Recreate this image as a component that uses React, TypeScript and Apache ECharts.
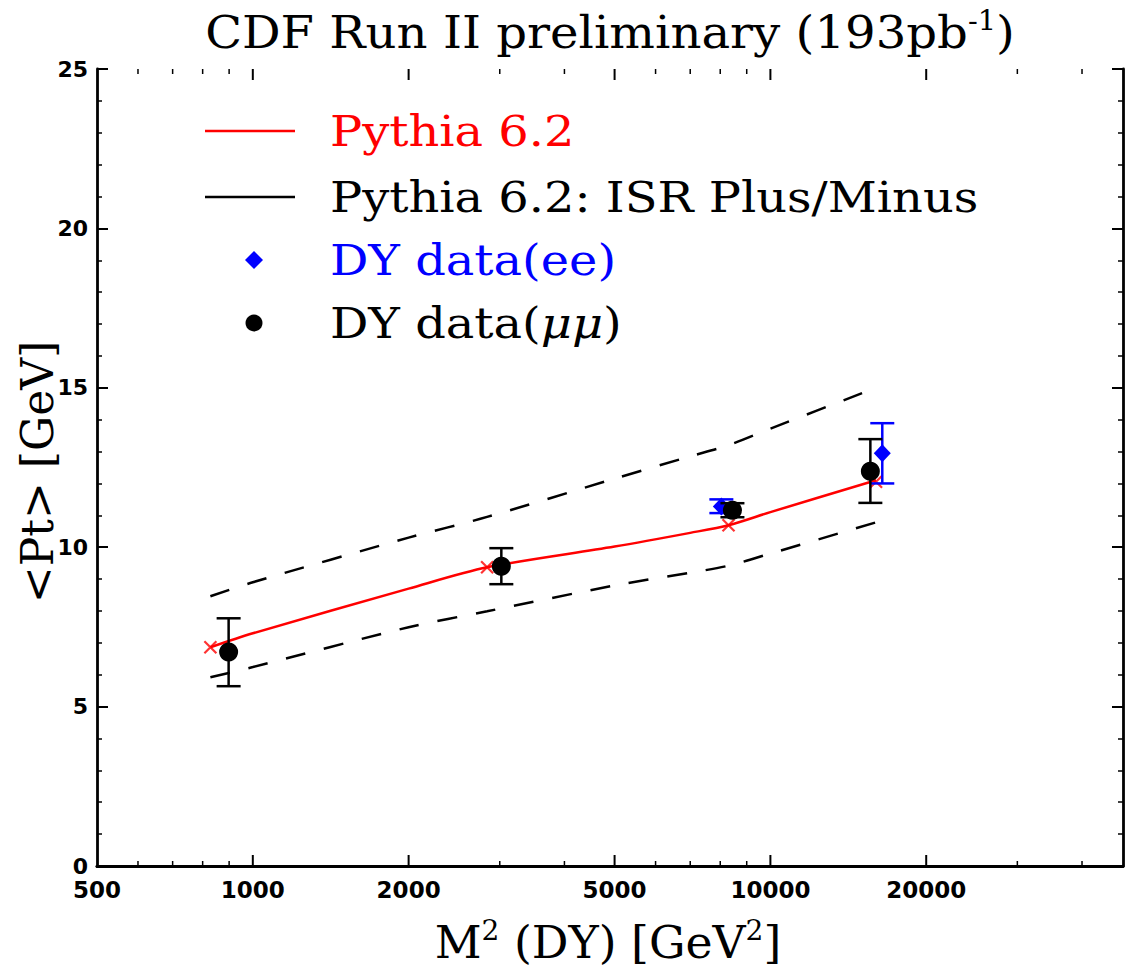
import React, { useEffect, useRef } from "react";
import * as echarts from "echarts";

// ---- data ----
const pythiaX = [828, 1000, 2000, 2836, 5000, 7000, 8300, 10000, 16000];
const pythiaY = [6.86, 7.3, 8.7, 9.37, 10.02, 10.45, 10.69, 11.1, 12.1];
const isrPlusY = [8.46, 8.9, 10.3, 10.95, 12.15, 12.85, 13.2, 13.72, 15.0];
const isrMinusY = [5.92, 6.24, 7.49, 7.99, 8.8, 9.2, 9.42, 9.8, 10.78];

const pythiaMarkX = [828, 2836, 8300, 16000];
const pythiaMarkY = [6.86, 9.37, 10.69, 12.05];

const muX = [898, 3021, 8446, 15600];
const muY = [6.71, 9.4, 11.16, 12.38];
const muLow = [5.64, 8.84, 10.94, 11.39];
const muHigh = [7.77, 9.97, 11.38, 13.39];

const eeX = [8040, 16450];
const eeY = [11.28, 12.95];
const eeLow = [11.07, 12.0];
const eeHigh = [11.5, 13.89];

const xMajorTicks = [1000, 2000, 5000, 10000, 20000];
const xMinorTicks = [600, 700, 800, 900, 3000, 4000, 6000, 7000, 8000, 9000, 30000, 40000];
const xTickLabels = [500, 1000, 2000, 5000, 10000, 20000];

const X_MIN = 500;
const X_MAX = 48000;
const Y_MIN = 0;
const Y_MAX = 25;

const SERIF = "'DejaVu Serif', 'Liberation Serif', serif";
const SANS = "'DejaVu Sans', sans-serif";

function buildOption() {
  const pts = (xs: number[], ys: number[]) => xs.map((x, i) => [x, ys[i]]);
  const errData = (xs: number[], lo: number[], hi: number[]) => xs.map((x, i) => [x, lo[i], hi[i]]);

  const errRender = (color: string) => (params: any, api: any) => {
    const x = api.value(0);
    const lo = api.coord([x, api.value(1)]);
    const hi = api.coord([x, api.value(2)]);
    const hw = 12;
    const st = { stroke: color, lineWidth: 2.5 };
    return {
      type: "group",
      children: [
        { type: "line", shape: { x1: lo[0], y1: lo[1], x2: hi[0], y2: hi[1] }, style: st },
        { type: "line", shape: { x1: lo[0] - hw, y1: lo[1], x2: lo[0] + hw, y2: lo[1] }, style: st },
        { type: "line", shape: { x1: hi[0] - hw, y1: hi[1], x2: hi[0] + hw, y2: hi[1] }, style: st },
      ],
    };
  };

  const tickData = [
    ...xMajorTicks.map((v) => [v, 1]),
    ...xMinorTicks.map((v) => [v, 0]),
  ];

  const axisCommonX = {
    type: "log",
    logBase: 10,
    min: X_MIN,
    max: X_MAX,
    axisLine: { show: true, lineStyle: { color: "#000", width: 2.8 } },
    axisTick: { show: false },
    axisLabel: { show: false },
    splitLine: { show: false },
    minorTick: { show: false },
    minorSplitLine: { show: false },
  };

  const axisCommonY = {
    type: "value",
    min: Y_MIN,
    max: Y_MAX,
    interval: 5,
    axisLine: { show: true, lineStyle: { color: "#000", width: 2.8 } },
    axisTick: { show: true, inside: true, length: 11, lineStyle: { color: "#000", width: 2 } },
    minorTick: { show: true, splitNumber: 5, length: 5, lineStyle: { color: "#000", width: 1.5 } },
    splitLine: { show: false },
  };

  const LEG_SCALE = 1.14;
  const legendText = (y: number, text: string, color: string) => ({
    type: "text",
    x: 330,
    y,
    scaleX: LEG_SCALE,
    style: {
      text,
      fill: color,
      fontSize: 42,
      fontFamily: SERIF,
      verticalAlign: "middle",
      align: "left",
    },
  });

  return {
    animation: false,
    backgroundColor: "#fff",
    grid: { left: 97, right: 4, top: 69, bottom: 108, containLabel: false },
    xAxis: [
      { ...axisCommonX, position: "bottom" },
      { ...axisCommonX, position: "top" },
    ],
    yAxis: [
      {
        ...axisCommonY,
        position: "left",
        axisLabel: {
          show: true,
          color: "#000",
          fontFamily: SANS,
          fontWeight: "bold",
          fontSize: 22,
          margin: 9,
        },
      },
      { ...axisCommonY, position: "right", axisLabel: { show: false } },
    ],
    graphic: [
      {
        type: "text",
        x: 610,
        y: 33,
        scaleX: 1.07,
        style: {
          text: "{a|CDF Run II preliminary (193pb}{s|-1}{a|)}",
          align: "center",
          verticalAlign: "middle",
          rich: {
            a: { fontSize: 45, fontFamily: SERIF, fill: "#000", lineHeight: 52 },
            s: { fontSize: 27, fontFamily: SERIF, fill: "#000", verticalAlign: "top", lineHeight: 52 },
          },
        },
      },
      {
        type: "text",
        x: 608,
        y: 943,
        scaleX: 1.04,
        style: {
          text: "{a|M}{s|2}{a| (DY) [GeV}{s|2}{a|]}",
          align: "center",
          verticalAlign: "middle",
          rich: {
            a: { fontSize: 44, fontFamily: SERIF, fill: "#000", lineHeight: 52 },
            s: { fontSize: 27, fontFamily: SERIF, fill: "#000", verticalAlign: "top", lineHeight: 52 },
          },
        },
      },
      {
        type: "text",
        x: 37,
        y: 472,
        rotation: Math.PI / 2,
        style: {
          text: "<Pt> [GeV]",
          fill: "#000",
          fontSize: 44,
          fontFamily: SERIF,
          align: "center",
          verticalAlign: "middle",
        },
      },
      // legend
      { type: "line", shape: { x1: 205, y1: 131, x2: 295, y2: 131 }, style: { stroke: "#ff0000", lineWidth: 2.5 } },
      legendText(132, "Pythia 6.2", "#ff0000"),
      { type: "line", shape: { x1: 205, y1: 197, x2: 295, y2: 197 }, style: { stroke: "#000", lineWidth: 2.5 } },
      legendText(198, "Pythia 6.2: ISR Plus/Minus", "#000"),
      {
        type: "polygon",
        shape: { points: [[254, 251], [263, 260], [254, 269], [245, 260]] },
        style: { fill: "#0000ff" },
      },
      legendText(261, "DY data(ee)", "#0000ff"),
      { type: "circle", shape: { cx: 254, cy: 323, r: 8.5 }, style: { fill: "#000" } },
      {
        type: "text",
        x: 330,
        y: 324,
        scaleX: LEG_SCALE,
        style: {
          text: "{n|DY data(}{i|μμ}{n|)}",
          verticalAlign: "middle",
          align: "left",
          rich: {
            n: { fontSize: 42, fontFamily: SERIF, fill: "#000" },
            i: { fontSize: 42, fontFamily: SERIF, fontStyle: "italic", fill: "#000" },
          },
        },
      },
    ],
    series: [
      {
        type: "line",
        name: "ISR Plus",
        data: pts(pythiaX, isrPlusY),
        smooth: 0.3,
        showSymbol: false,
        symbol: "none",
        lineStyle: { color: "#000", width: 2.5, type: [20, 19] },
        silent: true,
        z: 2,
      },
      {
        type: "line",
        name: "ISR Minus",
        data: pts(pythiaX, isrMinusY),
        smooth: 0.3,
        showSymbol: false,
        symbol: "none",
        lineStyle: { color: "#000", width: 2.5, type: [20, 19] },
        silent: true,
        z: 2,
      },
      {
        type: "line",
        name: "Pythia 6.2",
        data: pts(pythiaX, pythiaY),
        smooth: 0.3,
        showSymbol: false,
        symbol: "none",
        lineStyle: { color: "#ff0000", width: 2.5 },
        silent: true,
        z: 3,
      },
      {
        type: "scatter",
        name: "Pythia marks",
        data: pts(pythiaMarkX, pythiaMarkY),
        symbol: "path://M0,0L10,10M10,0L0,10",
        symbolSize: 12,
        itemStyle: { color: "none", borderColor: "#ff0000", borderWidth: 2.2 },
        silent: true,
        z: 3,
      },
      {
        type: "custom",
        name: "ee err",
        data: errData(eeX, eeLow, eeHigh),
        encode: { x: 0, y: [1, 2] },
        renderItem: errRender("#0000ff"),
        silent: true,
        z: 4,
      },
      {
        type: "scatter",
        name: "DY data(ee)",
        data: pts(eeX, eeY),
        symbol: "diamond",
        symbolSize: [17, 18],
        itemStyle: { color: "#0000ff", opacity: 1 },
        silent: true,
        z: 4,
      },
      {
        type: "custom",
        name: "mumu err",
        data: errData(muX, muLow, muHigh),
        encode: { x: 0, y: [1, 2] },
        renderItem: errRender("#000"),
        silent: true,
        z: 5,
      },
      {
        type: "scatter",
        name: "DY data(mumu)",
        data: pts(muX, muY),
        symbol: "circle",
        symbolSize: 19,
        itemStyle: { color: "#000", opacity: 1 },
        silent: true,
        z: 5,
      },
      {
        type: "custom",
        name: "x ticks",
        data: tickData,
        encode: { x: 0, y: 1 },
        clip: false,
        silent: true,
        z: 6,
        renderItem: (params: any, api: any) => {
          const v = api.value(0);
          const major = api.value(1) === 1;
          const b = api.coord([v, Y_MIN]);
          const t = api.coord([v, Y_MAX]);
          const len = major ? 11 : 5;
          const st = { stroke: "#000", lineWidth: major ? 2 : 1.5 };
          return {
            type: "group",
            children: [
              { type: "line", shape: { x1: b[0], y1: b[1], x2: b[0], y2: b[1] - len }, style: st },
              { type: "line", shape: { x1: t[0], y1: t[1], x2: t[0], y2: t[1] + len }, style: st },
            ],
          };
        },
      },
      {
        type: "custom",
        name: "x labels",
        data: xTickLabels.map((v) => [v, 0]),
        encode: { x: 0, y: 1 },
        clip: false,
        silent: true,
        z: 6,
        renderItem: (params: any, api: any) => {
          const v = api.value(0);
          const p = api.coord([v, Y_MIN]);
          return {
            type: "text",
            x: p[0],
            y: p[1] + 12,
            style: {
              text: String(v),
              fill: "#000",
              fontSize: 23,
              fontWeight: "bold",
              fontFamily: SANS,
              align: "center",
              verticalAlign: "top",
            },
          };
        },
      },
    ],
  };
}

export default function App() {
  const ref = useRef<HTMLDivElement>(null);
  useEffect(() => {
    document.body.style.margin = "0";
    const chart = echarts.init(ref.current as HTMLDivElement, null, { renderer: "svg" });
    chart.setOption(buildOption() as any);
    return () => {
      chart.dispose();
    };
  }, []);
  return <div ref={ref} style={{ width: 1127, height: 974 }} />;
}
